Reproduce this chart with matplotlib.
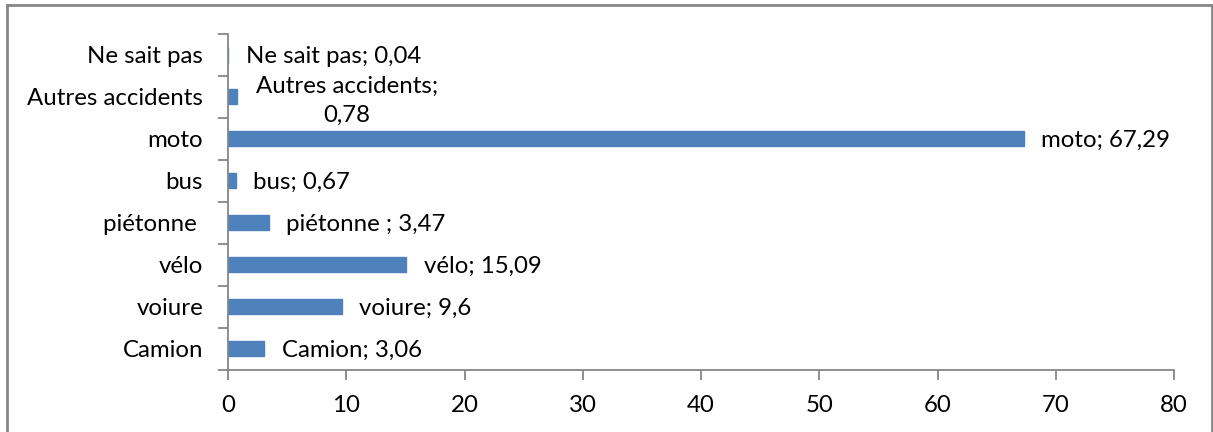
import matplotlib
matplotlib.use("Agg")
import matplotlib.pyplot as plt
from matplotlib.lines import Line2D

categories = ["Camion", "voiure", "vélo", "piétonne ", "bus", "moto",
              "Autres accidents", "Ne sait pas"]
values = [3.06, 9.6, 15.09, 3.47, 0.67, 67.29, 0.78, 0.04]
value_text = ["3,06", "9,6", "15,09", "3,47", "0,67", "67,29", "0,78", "0,04"]
xticks = [0, 10, 20, 30, 40, 50, 60, 70, 80]

plt.rcParams['font.family'] = ['Lato', 'DejaVu Sans']
fs = 17.3
grey = "#868686"

fig = plt.figure(figsize=(12.13, 4.32), dpi=100)
ax = fig.add_axes([228 / 1213, 1 - 369.5 / 432, 946 / 1213, 335.5 / 432])

pos = list(range(len(categories)))
ax.barh(pos, values, height=0.36, color="#4F81BD", edgecolor="#4F81BD")
ax.set_xlim(0, 80)
ax.set_ylim(-0.5, len(categories) - 0.5)

for i, (c, v, t) in enumerate(zip(categories, values, value_text)):
    if c == "Autres accidents":
        ax.annotate(c + ";\n" + t, xy=(v, i), xytext=(79, -3),
                    textcoords="offset points", ha="center", va="center",
                    fontsize=fs, linespacing=1.45)
    else:
        ax.annotate(c + "; " + t, xy=(v, i), xytext=(12.5, -1),
                    textcoords="offset points", ha="left", va="center",
                    fontsize=fs)

ax.set_xticks(xticks)
ax.set_xticklabels([str(x) for x in xticks], fontsize=fs)
ax.set_yticks([p - 0.5 for p in pos] + [len(pos) - 0.5])
ax.set_yticklabels([])
ax.set_yticks(pos, minor=True)
ax.set_yticklabels(categories, minor=True, fontsize=fs)
ax.tick_params(axis="y", which="minor", length=0, pad=18)
ax.tick_params(axis="y", which="major", length=7, color=grey, width=1.3)
ax.tick_params(axis="x", length=7, color=grey, width=1.3, pad=11)

for s in ["top", "right"]:
    ax.spines[s].set_visible(False)
for s in ["left", "bottom"]:
    ax.spines[s].set_color(grey)
    ax.spines[s].set_linewidth(1.3)

# outer chart border
b = dict(color=grey, lw=2, transform=fig.transFigure)
x0, x1, y1 = 6.5 / 1213, 1211.5 / 1213, 1 - 5 / 432
fig.add_artist(Line2D([x0, x0], [0, y1], **b))
fig.add_artist(Line2D([x0, x1], [y1, y1], **b))
fig.add_artist(Line2D([x1, x1], [0, y1], **b))

fig.savefig("out.png", dpi=100)
